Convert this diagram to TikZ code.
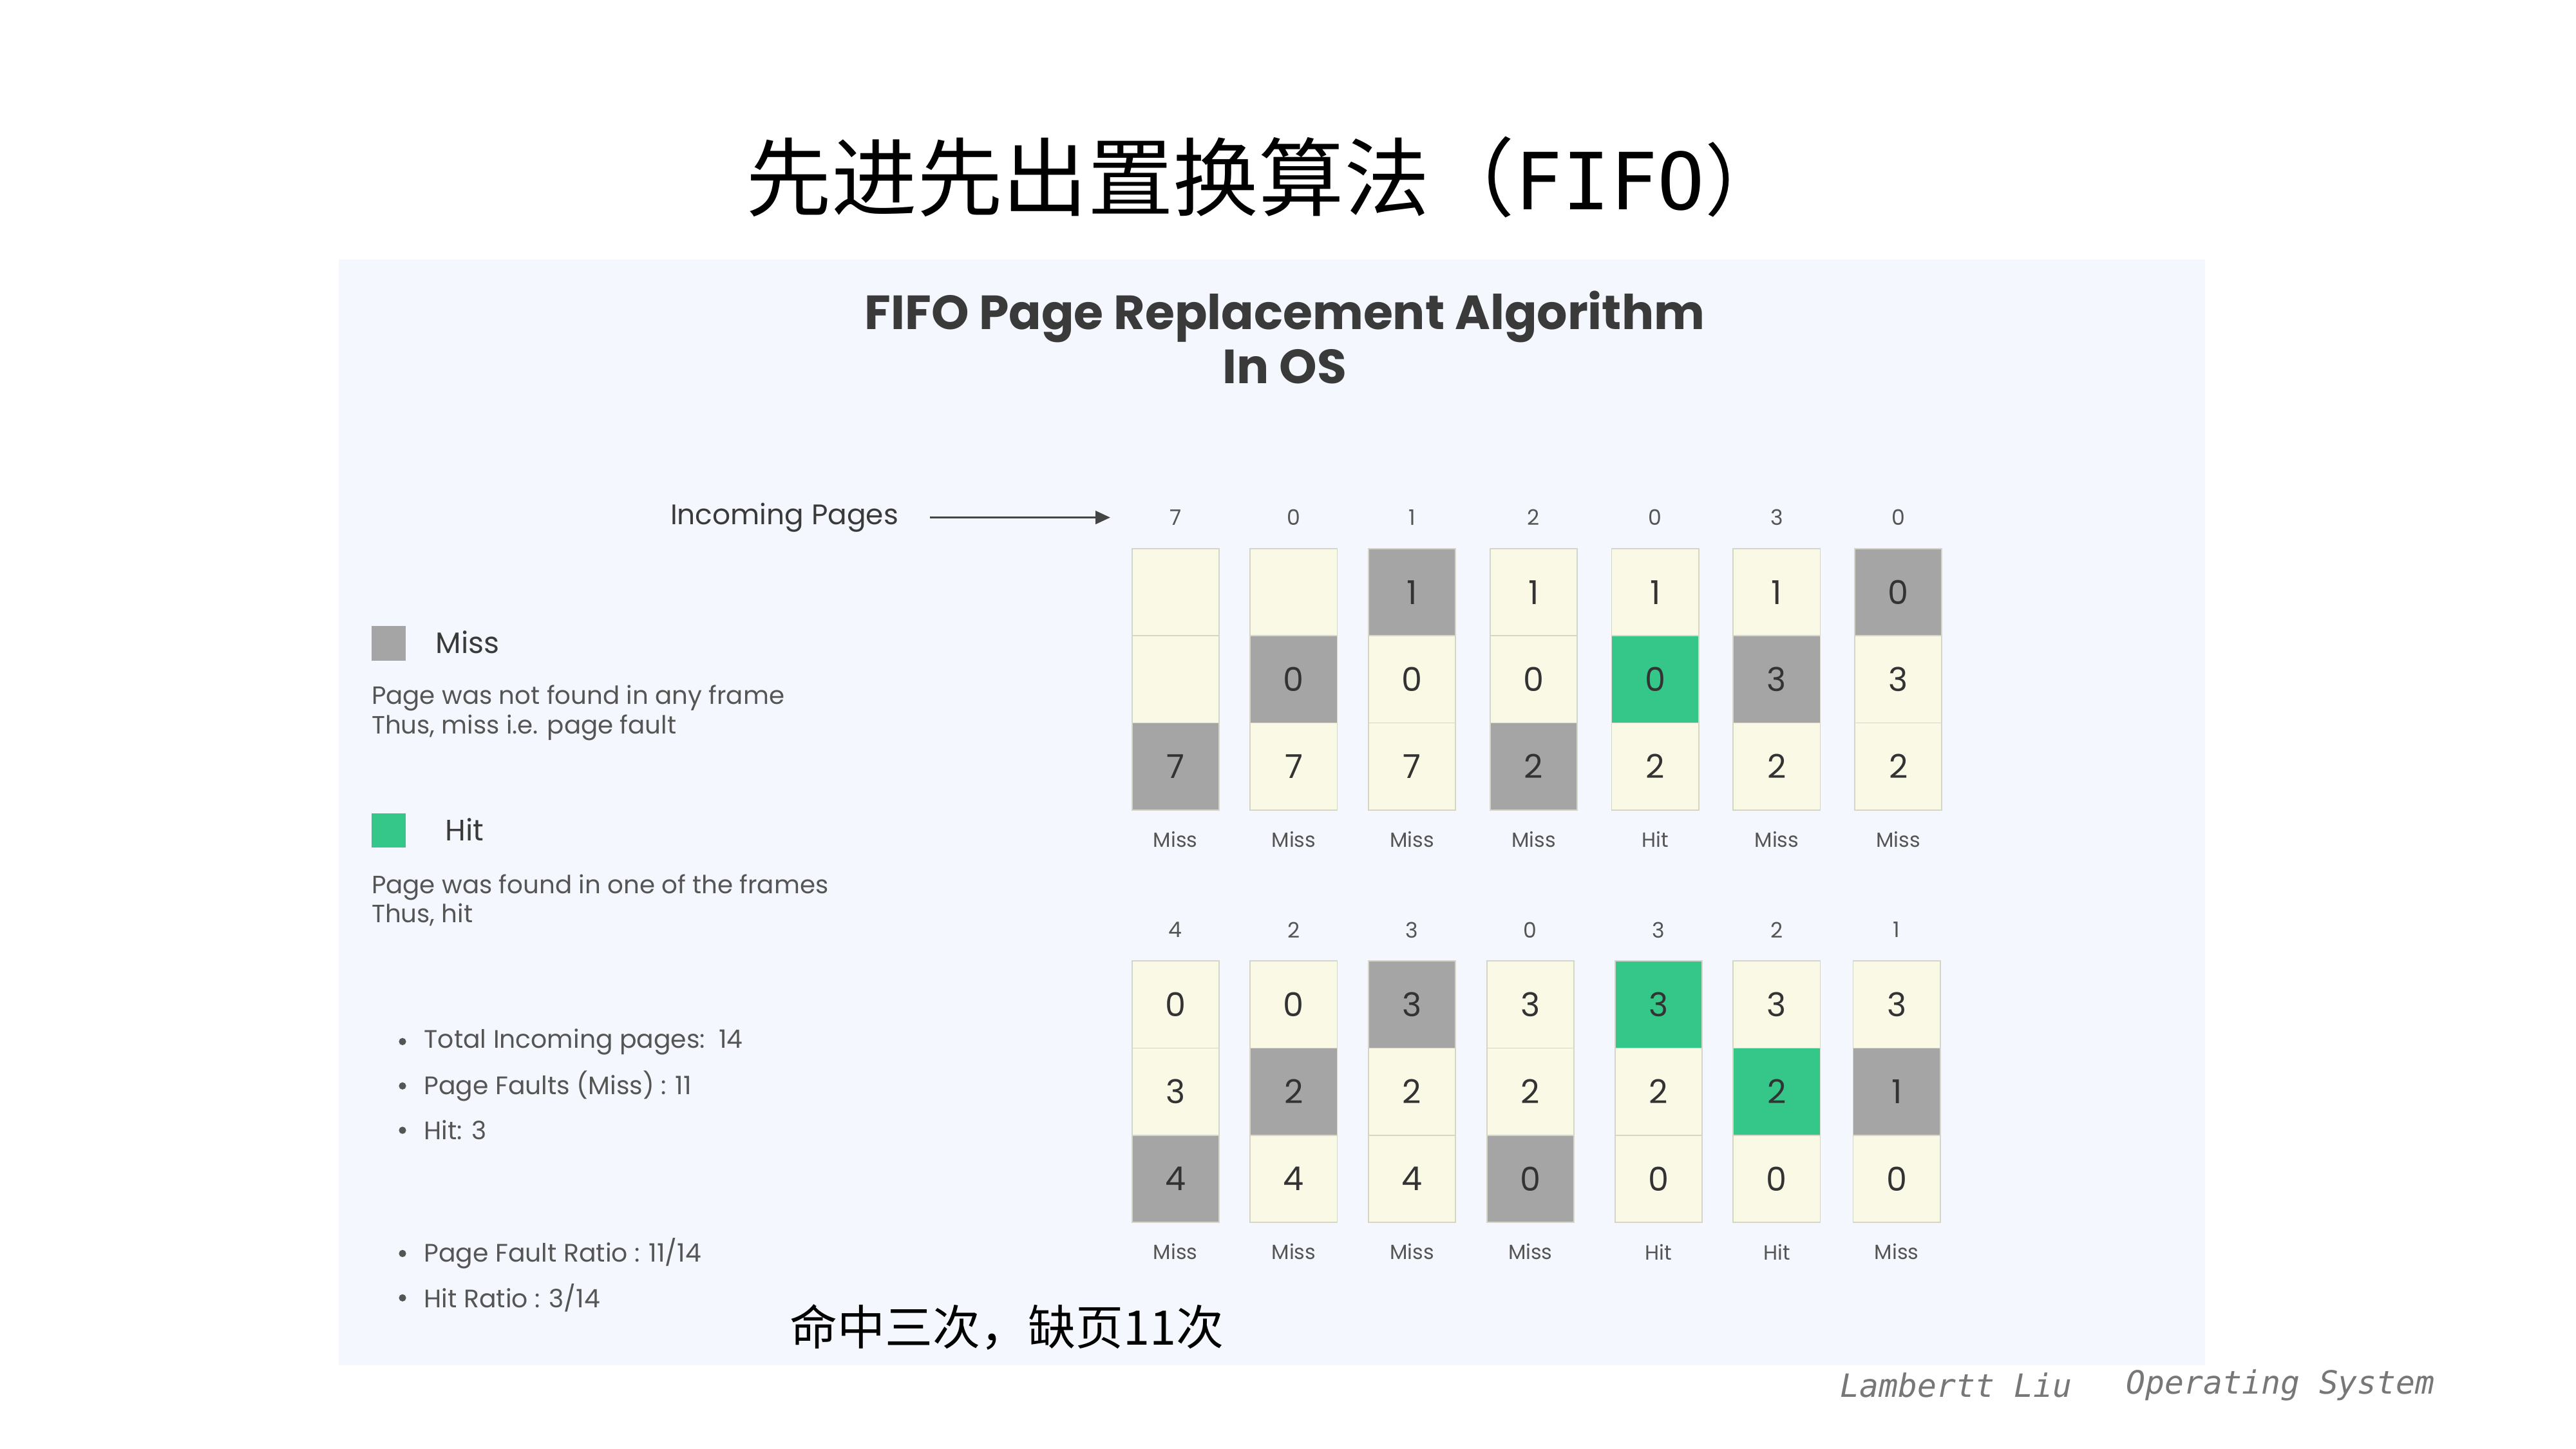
\documentclass[tikz,border=0pt]{standalone}
\usepackage{fontspec}
\setmainfont{Poppins}
\newfontfamily\cjkfont{Noto Sans CJK SC}
\newfontfamily\titlemono{DejaVu Sans Mono}
\newfontfamily\footfont{DejaVu Sans Mono}
\usetikzlibrary{arrows.meta}

\definecolor{panelbg}{HTML}{F4F7FD}
\definecolor{cream}{HTML}{FAF9E5}
\definecolor{missgray}{HTML}{A5A5A5}
\definecolor{hitgreen}{HTML}{35C78A}
\definecolor{cellline}{HTML}{D6D6C8}
\definecolor{celltext}{HTML}{333333}
\definecolor{headtext}{HTML}{3A3A3A}
\definecolor{bodytext}{HTML}{555555}
\definecolor{arrowcol}{HTML}{444444}
\definecolor{footgray}{HTML}{777777}

\begin{document}
\begin{tikzpicture}[x=1pt,y=-1pt,
  every node/.style={inner sep=0pt},
  cell/.style={draw=cellline, line width=0.7pt, minimum width=53pt, minimum height=53pt,
    font=\fontsize{20}{20}\selectfont, text=celltext},
  cr/.style={cell, fill=cream},
  gy/.style={cell, fill=missgray},
  gn/.style={cell, fill=hitgreen},
  incoming/.style={font=\fontsize{13}{13}\selectfont, text=bodytext, minimum width=20pt},
  verdict/.style={font=\fontsize{12.5}{12.5}\selectfont, text=bodytext},
  keybox/.style={minimum size=21pt},
  legendtitle/.style={anchor=west, font=\fontsize{18}{18}\selectfont, text=headtext},
  note/.style={anchor=west, font=\fontsize{15.2}{18}\selectfont, text=bodytext, align=left},
  stat/.style={anchor=west, font=\fontsize{15.4}{15.4}\selectfont, text=bodytext},
  flow/.style={draw=arrowcol, line width=1.3pt, -{Triangle[length=9pt,width=8pt]}},
]

% page and panel
\useasboundingbox[fill=white] (0,0) rectangle (1568,882);
\fill[panelbg] (206,158) rectangle (1342,831);

% slide title
\node[font=\fontsize{52}{52}\selectfont] (title) at (770,108)
  {\cjkfont 先进先出置换算法（\titlemono\fontsize{48}{48}\selectfont FIFO\cjkfont ）};

% panel heading
\node[font=\bfseries\fontsize{29.2}{33}\selectfont, text=headtext, align=center] (heading)
  at (782,205.5) {FIFO Page Replacement Algorithm\\In OS};

% first seven references
\foreach \x/\inc/\a/\sa/\b/\sb/\c/\sc/\res [count=\i] in {
  715.5/7/{}/cr/{}/cr/7/gy/Miss,
  787.5/0/{}/cr/0/gy/7/cr/Miss,
  859.5/1/1/gy/0/cr/7/cr/Miss,
  933.5/2/1/cr/0/cr/2/gy/Miss,
  1007.5/0/1/cr/0/gn/2/cr/Hit,
  1081.5/3/1/cr/3/gy/2/cr/Miss,
  1155.5/0/0/gy/3/cr/2/cr/Miss}
{
  \node[incoming] (tin\i) at (\x,315) {\inc};
  \node[\sa] (ta\i) at (\x,360.5) {\a};
  \node[\sb] (tb\i) at (\x,413.5) {\b};
  \node[\sc] (tc\i) at (\x,466.5) {\c};
  \node[verdict] (tv\i) at (\x,511) {\res};
}

% last seven references
\foreach \x/\inc/\a/\sa/\b/\sb/\c/\sc/\res [count=\i] in {
  715.5/4/0/cr/3/cr/4/gy/Miss,
  787.5/2/0/cr/2/gy/4/cr/Miss,
  859.5/3/3/gy/2/cr/4/cr/Miss,
  931.5/0/3/cr/2/cr/0/gy/Miss,
  1009.5/3/3/gn/2/cr/0/cr/Hit,
  1081.5/2/3/cr/2/gn/0/cr/Hit,
  1154.5/1/3/cr/1/gy/0/cr/Miss}
{
  \node[incoming] (bin\i) at (\x,566) {\inc};
  \node[\sa] (ba\i) at (\x,611.5) {\a};
  \node[\sb] (bb\i) at (\x,664.5) {\b};
  \node[\sc] (bc\i) at (\x,717.5) {\c};
  \node[verdict] (bv\i) at (\x,762) {\res};
}

% incoming pages label and arrow
\node[anchor=east, font=\fontsize{17.2}{17.2}\selectfont, text=headtext] (inlabel)
  at (547,315) {Incoming Pages};
\draw[flow, shorten <=19pt, shorten >=29.5pt] (inlabel.east) -- (tin1.west);

% legend
\node[keybox, fill=missgray] (misskey) at (236.5,391.5) {};
\node[legendtitle] (misstitle) at (265,391) {Miss};
\node[note] (missnote) at (226,434) {Page was not found in any frame\\Thus, miss i.e. page fault};
\node[keybox, fill=hitgreen] (hitkey) at (236.5,505.5) {};
\node[legendtitle] (hittitle) at (271,505) {Hit};
\node[note] (hitnote) at (226,548) {Page was found in one of the frames\\Thus, hit};

% statistics
\foreach \yy/\txt [count=\k] in {634/{Total Incoming pages:\ \ 14}, 661/{Page Faults (Miss) : 11},
    688/{Hit: 3}, 763/{Page Fault Ratio : 11/14}, 790/{Hit Ratio : 3/14}}
{
  \fill[bodytext] (245,\yy) circle (2.2pt);
  \node[stat] (stat\k) at (258,\yy) {\txt};
}

% summary
\node[font=\cjkfont\fontsize{29}{29}\selectfont, text=black] (summary) at (613,808)
  {命中三次，缺页11次};

% footer
\node[anchor=west, font=\footfont\itshape\fontsize{19.5}{19.5}\selectfont, text=footgray]
  (author) at (1120,843) {Lambertt Liu};
\node[anchor=west, font=\footfont\itshape\fontsize{19.5}{19.5}\selectfont, text=footgray]
  (course) at (1294,843) {Operating System};

\end{tikzpicture}
\end{document}
